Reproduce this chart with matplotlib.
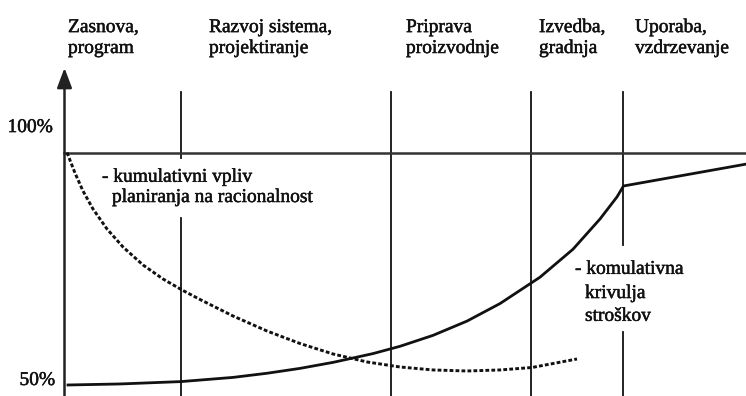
import matplotlib.pyplot as plt
import matplotlib.patheffects as pe

plt.rcParams['font.family'] = ['Liberation Serif', 'DejaVu Serif']

# project phases (header labels) and where each phase starts on the time axis
phase_labels = [("Zasnova,", "program"),
                ("Razvoj sistema,", "projektiranje"),
                ("Priprava", "proizvodnje"),
                ("Izvedba,", "gradnja"),
                ("Uporaba,", "vzdrzevanje")]
phase_label_x = [0.35, 14.45, 34.15, 47.45, 57.05]
phase_bounds = [11.7, 32.7, 46.7, 55.9]

# cumulative cost curve (time, %)
cost_t = [0.35, 5.55, 11.65, 16.85, 20.25, 23.55, 26.85, 30.85, 33.55, 36.85,
          40.25, 43.55, 47.55, 50.85, 53.55, 55.25, 55.9, 68.15]
cost_y = [50.0, 50.22, 50.73, 51.63, 52.52, 53.57, 54.86, 56.75, 58.32, 60.67,
          63.74, 67.51, 73.18, 79.2, 85.7, 90.45, 92.8, 97.5]

# cumulative influence of planning on rationality (time, %)
plan_t = [0.25, 1.05, 1.85, 2.85, 4.25, 5.85, 7.85, 9.85, 11.75, 13.55, 16.85,
          20.25, 23.55, 26.85, 30.25, 33.55, 36.85, 40.25, 43.55, 46.75, 51.25]
plan_y = [100.0, 95.59, 91.72, 87.85, 83.55, 79.68, 75.81, 72.8, 70.43, 68.39,
          64.84, 61.61, 58.92, 56.67, 54.95, 53.87, 53.23, 53.01, 53.23, 53.76,
          55.59]

fig = plt.figure(figsize=(7.46, 3.96), dpi=100)
ax = fig.add_axes([0, 0, 1, 1])
ax.set_xlim(-6.45, 68.15)
ax.set_ylim(47.63, 132.8)
ax.axis('off')

ink = '#111111'
fs = 14
heavy = [pe.withStroke(linewidth=0.35, foreground=ink)]

# phase boundaries (gaps where the curve labels sit)
top = 113.0
bot = 47.63
gaps = {0: (85.9, 98.9), 3: (61.4, 80.1)}
for i, xb in enumerate(phase_bounds):
    if i in gaps:
        lo, hi = gaps[i]
        ax.plot([xb, xb], [bot, lo], color=ink, lw=1.3)
        ax.plot([xb, xb], [hi, top], color=ink, lw=1.3)
    else:
        ax.plot([xb, xb], [bot, top], color=ink, lw=1.3)

# 100% line and y axis with arrow
ax.plot([0, 68.15], [100, 100], color='#333333', lw=1.8)
ax.annotate('', xy=(0, 118.2), xytext=(0, 47.63),
            arrowprops=dict(arrowstyle='-|>,head_length=1.2,head_width=0.45',
                            mutation_scale=10, color='#222222', lw=1.8,
                            shrinkA=0, shrinkB=0))

# curves
ax.plot(cost_t, cost_y, color=ink, lw=2.0, solid_joinstyle='round')
ax.plot(plan_t, plan_y, color=ink, lw=2.1, linestyle=(0, (1.3, 0.75)))

# header labels
for (l1, l2), x in zip(phase_labels, phase_label_x):
    ax.text(x, 125.9, l1, fontsize=fs, color=ink, va='baseline', ha='left', path_effects=heavy)
    ax.text(x, 121.4, l2, fontsize=fs, color=ink, va='baseline', ha='left', path_effects=heavy)

ax.text(-1.15, 104.4, "100%", fontsize=fs, color=ink, ha='right', va='baseline', path_effects=heavy)
ax.text(-0.95, 50.0, "50%", fontsize=fs, color=ink, ha='right', va='baseline', path_effects=heavy)

ax.text(3.75, 93.7, "- kumulativni vpliv", fontsize=fs, color=ink, va='baseline', path_effects=heavy)
ax.text(4.75, 89.35, "planiranja na racionalnost", fontsize=fs, color=ink, va='baseline', path_effects=heavy)

ax.text(51.05, 73.9, "- komulativna", fontsize=fs, color=ink, va='baseline', path_effects=heavy)
ax.text(52.05, 68.7, "krivulja", fontsize=fs, color=ink, va='baseline', path_effects=heavy)
ax.text(52.05, 63.8, "stroškov", fontsize=fs, color=ink, va='baseline', path_effects=heavy)

fig.savefig('out.png', dpi=100)
